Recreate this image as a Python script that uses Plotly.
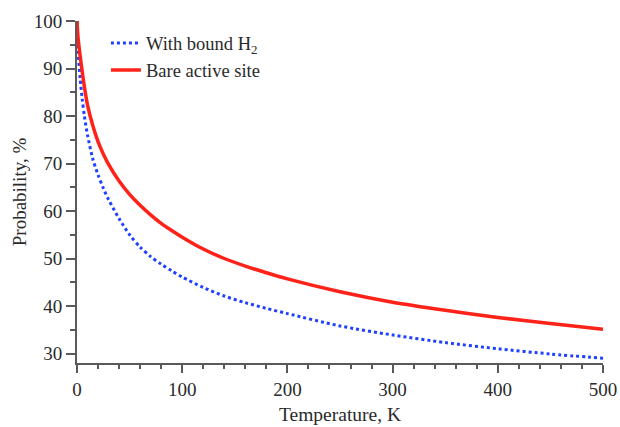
import plotly.graph_objects as go

# Temperature (K) sample points
temp_bound = [0, 1, 2, 3, 5, 7, 10, 15, 20, 25, 30, 40, 50, 60, 70, 80, 90,
              100, 120, 140, 160, 180, 200, 250, 300, 350, 400, 450, 500]
prob_bound = [100, 94.0, 90.5, 87.8, 83.5, 80.0, 76.0, 71.0, 67.6, 64.8, 62.4,
              58.4, 55.0, 52.4, 50.4, 48.8, 47.4, 46.1, 43.9, 42.1, 40.7, 39.5,
              38.4, 35.8, 33.9, 32.3, 31.0, 29.9, 29.0]

temp_bare = [0, 1, 2, 3, 5, 7, 10, 15, 20, 25, 30, 40, 50, 60, 70, 80, 90,
             100, 120, 140, 160, 180, 200, 250, 300, 350, 400, 450, 500]
prob_bare = [100, 96.5, 94.5, 92.6, 89.3, 86.2, 82.3, 78.0, 74.6, 72.0, 69.8,
             66.3, 63.5, 61.2, 59.2, 57.4, 55.9, 54.5, 52.0, 50.0, 48.4, 47.0,
             45.7, 43.0, 40.8, 39.1, 37.6, 36.3, 35.1]

series_names = ["With bound H<sub>2</sub>", "Bare active site"]

x_ticks = [0, 100, 200, 300, 400, 500]
y_ticks = [30, 40, 50, 60, 70, 80, 90, 100]

AX = "#5a5a5a"
TXT = "#2a2a2a"
FONT = "Liberation Serif, Times New Roman, serif"

fig = go.Figure()
fig.add_trace(go.Scatter(x=temp_bound, y=prob_bound, mode="lines", name=series_names[0],
                         line=dict(color="#2040ff", width=3, dash="dot",
                                   shape="spline", smoothing=0.8)))
fig.add_trace(go.Scatter(x=temp_bare, y=prob_bare, mode="lines", name=series_names[1],
                         line=dict(color="#ff2218", width=3.5,
                                   shape="spline", smoothing=0.8)))

axis_common = dict(showgrid=False, zeroline=False, showline=True, linecolor=AX, linewidth=2,
                   ticks="outside", tickcolor=AX, tickwidth=1.5,
                   tickfont=dict(family=FONT, size=19, color=TXT),
                   mirror=False, automargin=False)

fig.update_xaxes(range=[0, 500], tickvals=x_ticks, ticklen=8,
                 minor=dict(dtick=20, ticks="outside", ticklen=4, tickcolor=AX, tickwidth=1.5),
                 title=dict(text="Temperature, K", font=dict(family=FONT, size=19.5, color=TXT),
                            standoff=9),
                 **axis_common)
fig.update_yaxes(range=[28, 100], tickvals=y_ticks, ticklen=9,
                 minor=dict(dtick=5, tick0=0, ticks="outside", ticklen=5, tickcolor=AX, tickwidth=1.5),
                 title=dict(text="Probability, %", font=dict(family=FONT, size=19, color=TXT),
                            standoff=2),
                 **axis_common)

fig.update_layout(
    width=620, height=427,
    margin=dict(l=77, r=17, t=21, b=64),
    plot_bgcolor="white", paper_bgcolor="white",
    legend=dict(x=0.055, y=0.99, xanchor="left", yanchor="top",
                bgcolor="rgba(0,0,0,0)", font=dict(family=FONT, size=18.5, color=TXT),
                itemwidth=30, tracegroupgap=0),
    showlegend=True,
)

fig.write_html("out.html")
